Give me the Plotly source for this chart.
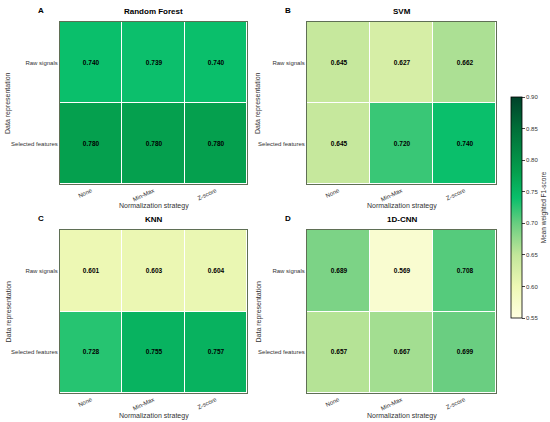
import plotly.graph_objects as go
from plotly.subplots import make_subplots

models = ["Random Forest", "SVM", "KNN", "1D-CNN"]
panel_letters = ["A", "B", "C", "D"]
strategies = ["None", "Min-Max", "Z-score"]
representations = ["Raw signals", "Selected features"]

rf_scores = [[0.740, 0.739, 0.740], [0.780, 0.780, 0.780]]
svm_scores = [[0.645, 0.627, 0.662], [0.645, 0.720, 0.740]]
knn_scores = [[0.601, 0.603, 0.604], [0.728, 0.755, 0.757]]
cnn_scores = [[0.689, 0.569, 0.708], [0.657, 0.667, 0.699]]
all_scores = [rf_scores, svm_scores, knn_scores, cnn_scores]

zmin, zmax = 0.55, 0.90
# colour stops
stop_values = [0.55, 0.60, 0.65, 0.70, 0.74, 0.78, 0.85, 0.90]
stop_colors = ["#ffffe0", "#eef8b5", "#c2e69a", "#68ce80",
               "#0abf6b", "#05a04e", "#006e38", "#00422a"]
greens = [[(v - zmin) / (zmax - zmin), col] for v, col in zip(stop_values, stop_colors)]

font = "Liberation Sans, Arial, sans-serif"
edge = "#5f6f55"
grey = "#333"

fig = make_subplots(rows=2, cols=2)

# plot areas in pixels, turned into paper fractions
W, H = 550, 422
xdom = [(60 / W, 247 / W), (307 / W, 496 / W)]
ydom = [(1 - 184 / H, 1 - 22 / H), (1 - 393 / H, 1 - 230 / H)]
ytitle_x = [8 / W, 258 / W]
xtitle_y = [1 - 206 / H, 1 - 416 / H]

for i, (name, z) in enumerate(zip(models, all_scores)):
    r, c = divmod(i, 2)
    fig.add_trace(go.Heatmap(
        z=z, x=strategies, y=representations,
        colorscale=greens, zmin=zmin, zmax=zmax,
        xgap=1, ygap=1,
        texttemplate="<b>%{z:.3f}</b>",
        textfont=dict(size=6.5, color="black", family=font),
        showscale=(i == 0),
        colorbar=dict(
            x=511 / W, xanchor="left", y=1 - 207.5 / H, yanchor="middle",
            xpad=0, ypad=0,
            lenmode="pixels", len=221, thickness=11,
            outlinecolor="black", outlinewidth=0.8,
            tickmode="linear", tick0=0.55, dtick=0.05, tickformat=".2f",
            ticks="outside", ticklen=3, tickfont=dict(size=6, family=font, color=grey),
            title=dict(text="Mean weighted F1-score", side="right",
                       font=dict(size=6.5, family=font, color=grey)),
        ),
    ), row=r + 1, col=c + 1)

    xa = "xaxis" if i == 0 else f"xaxis{i + 1}"
    ya = "yaxis" if i == 0 else f"yaxis{i + 1}"
    fig.layout[xa].update(
        domain=xdom[c], tickangle=-25, showline=True, mirror=True, automargin=False,
        linecolor=edge, linewidth=1, ticks="", showgrid=False,
        tickfont=dict(size=6, family=font, color=grey),
    )
    fig.layout[ya].update(
        domain=ydom[r], autorange="reversed", showline=True, mirror=True, automargin=False,
        linecolor=edge, linewidth=1, ticks="", showgrid=False,
        tickfont=dict(size=6, family=font, color=grey),
    )
    x0, x1 = xdom[c]
    y0, y1 = ydom[r]
    fig.add_annotation(text="Data representation", x=ytitle_x[c], y=(y0 + y1) / 2,
                       xref="paper", yref="paper", xanchor="center", yanchor="middle",
                       textangle=-90, showarrow=False,
                       font=dict(size=7, family=font, color=grey))
    fig.add_annotation(text="Normalization strategy", x=(x0 + x1) / 2, y=xtitle_y[r],
                       xref="paper", yref="paper", xanchor="center", yanchor="middle",
                       showarrow=False, font=dict(size=7, family=font, color=grey))
    fig.add_annotation(text=f"<b>{name}</b>", x=(x0 + x1) / 2, y=y1 + 4 / H,
                       xref="paper", yref="paper", xanchor="center", yanchor="bottom",
                       showarrow=False, font=dict(size=8, family=font, color="black"))
    fig.add_annotation(text=f"<b>{panel_letters[i]}</b>", x=x0 - 24 / W, y=y1 + 18 / H,
                       xref="paper", yref="paper", xanchor="left", yanchor="top",
                       showarrow=False, font=dict(size=8, family=font, color="black"))

fig.update_layout(
    width=W, height=H,
    margin=dict(l=0, r=0, t=0, b=0, autoexpand=False),
    paper_bgcolor="white", plot_bgcolor="white",
    font=dict(family=font),
)

# drop the browser's default page margin so the figure sits at the window corner
fig.write_html("out.html", config={"displayModeBar": False},
               post_script="document.body.style.margin='0';")
